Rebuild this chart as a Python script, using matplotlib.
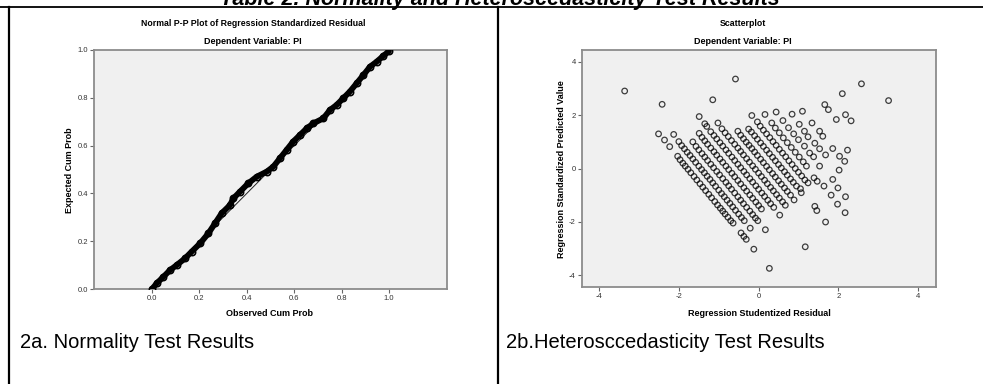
import matplotlib
matplotlib.use("Agg")
import matplotlib.pyplot as plt
from matplotlib.lines import Line2D

# --- data ----------------------------------------------------------------

# Normal P-P plot: observed vs expected cumulative probability
pp_observed = [0.00, 0.02, 0.048, 0.076, 0.104, 0.139, 0.167, 0.203, 0.238, 0.266,
               0.294, 0.329, 0.343, 0.371, 0.406, 0.442, 0.484, 0.512, 0.540, 0.568,
               0.596, 0.624, 0.653, 0.681, 0.723, 0.751, 0.779, 0.807, 0.835, 0.864,
               0.892, 0.920, 0.948, 0.976, 1.00]
pp_expected = [0.00, 0.024, 0.051, 0.079, 0.100, 0.128, 0.156, 0.191, 0.233, 0.275,
               0.317, 0.351, 0.379, 0.407, 0.442, 0.470, 0.491, 0.512, 0.547, 0.582,
               0.617, 0.644, 0.672, 0.693, 0.714, 0.749, 0.770, 0.798, 0.826, 0.861,
               0.895, 0.930, 0.951, 0.975, 0.995]
diag_x = [0.0, 1.0]
diag_y = [0.0, 1.0]
pp_ticks = [0.0, 0.2, 0.4, 0.6, 0.8, 1.0]

# Scatterplot: studentized residual (x) vs standardized predicted value (y)
band0 = [(-3.36, 2.91), (-2.51, 1.30), (-2.36, 1.07), (-2.23, 0.82), (-2.03, 0.46),
         (-1.97, 0.33), (-1.90, 0.20), (-1.84, 0.09), (-1.77, -0.03), (-1.70, -0.16),
         (-1.62, -0.30), (-1.55, -0.43), (-1.47, -0.57), (-1.40, -0.70), (-1.33, -0.83),
         (-1.25, -0.97), (-1.18, -1.10), (-1.10, -1.24), (-1.03, -1.37), (-0.96, -1.49),
         (-0.90, -1.60), (-0.84, -1.71), (-0.77, -1.83), (-0.70, -1.96), (-0.64, -2.05),
         (-0.44, -2.42), (-0.37, -2.55), (-0.31, -2.66), (-0.12, -3.03), (0.27, -3.75)]
band1 = [(-2.13, 1.28), (-2.00, 1.01), (-1.93, 0.86), (-1.86, 0.74), (-1.79, 0.61),
         (-1.72, 0.49), (-1.65, 0.36), (-1.58, 0.23), (-1.50, 0.09), (-1.43, -0.04),
         (-1.36, -0.16), (-1.29, -0.29), (-1.22, -0.41), (-1.15, -0.54), (-1.08, -0.67),
         (-1.00, -0.81), (-0.93, -0.94), (-0.86, -1.06), (-0.79, -1.19), (-0.72, -1.31),
         (-0.65, -1.44), (-0.58, -1.57), (-0.50, -1.71), (-0.43, -1.84), (-0.36, -1.96),
         (-0.21, -2.24)]
band2 = [(-2.42, 2.41), (-1.65, 1.00), (-1.57, 0.83), (-1.50, 0.70), (-1.42, 0.56),
         (-1.35, 0.43), (-1.28, 0.30), (-1.20, 0.16), (-1.13, 0.03), (-1.05, -0.11),
         (-0.98, -0.24), (-0.90, -0.38), (-0.82, -0.52), (-0.75, -0.65), (-0.68, -0.78),
         (-0.60, -0.92), (-0.52, -1.06), (-0.45, -1.19), (-0.38, -1.32), (-0.30, -1.46),
         (-0.22, -1.60), (-0.15, -1.73), (-0.08, -1.86), (-0.02, -1.96), (0.17, -2.30)]
band3 = [(-1.49, 1.32), (-1.42, 1.17), (-1.35, 1.04), (-1.28, 0.91), (-1.20, 0.77),
         (-1.12, 0.63), (-1.05, 0.50), (-0.97, 0.36), (-0.90, 0.23), (-0.82, 0.09),
         (-0.75, -0.04), (-0.67, -0.18), (-0.60, -0.31), (-0.52, -0.45), (-0.45, -0.58),
         (-0.37, -0.72), (-0.30, -0.85), (-0.22, -0.99), (-0.15, -1.12), (-0.07, -1.26),
         (0.00, -1.39), (0.07, -1.52)]
band4 = [(-1.49, 1.95), (-1.35, 1.68), (-1.30, 1.58), (-1.20, 1.38), (-1.12, 1.24),
         (-1.05, 1.11), (-0.97, 0.97), (-0.90, 0.84), (-0.82, 0.70), (-0.75, 0.57),
         (-0.67, 0.43), (-0.60, 0.30), (-0.52, 0.16), (-0.45, 0.03), (-0.37, -0.11),
         (-0.30, -0.24), (-0.22, -0.38), (-0.15, -0.51), (-0.07, -0.65), (0.00, -0.78),
         (0.08, -0.92), (0.15, -1.05), (0.23, -1.19), (0.30, -1.32), (0.38, -1.46),
         (0.53, -1.75)]
band5 = [(-1.02, 1.71), (-0.92, 1.49), (-0.84, 1.34), (-0.76, 1.20), (-0.68, 1.05),
         (-0.60, 0.91), (-0.52, 0.77), (-0.45, 0.64), (-0.38, 0.51), (-0.30, 0.37),
         (-0.23, 0.24), (-0.15, 0.10), (-0.08, -0.03), (0.00, -0.17), (0.07, -0.30),
         (0.15, -0.44), (0.22, -0.57), (0.30, -0.71), (0.37, -0.84), (0.45, -0.98),
         (0.52, -1.11), (0.60, -1.25), (0.67, -1.38)]
band6 = [(-1.15, 2.58), (-0.52, 1.40), (-0.45, 1.25), (-0.38, 1.12), (-0.31, 0.99),
         (-0.24, 0.87), (-0.17, 0.75), (-0.10, 0.62), (-0.03, 0.49), (0.05, 0.35),
         (0.12, 0.22), (0.20, 0.08), (0.27, -0.05), (0.35, -0.19), (0.42, -0.32),
         (0.50, -0.46), (0.57, -0.59), (0.65, -0.73), (0.72, -0.86), (0.80, -1.00),
         (0.89, -1.18)]
band7 = [(-0.25, 1.48), (-0.18, 1.37), (-0.10, 1.23), (-0.03, 1.10), (0.05, 0.96),
         (0.12, 0.83), (0.20, 0.69), (0.27, 0.56), (0.35, 0.42), (0.42, 0.29),
         (0.50, 0.15), (0.57, 0.02), (0.65, -0.12), (0.72, -0.25), (0.80, -0.39),
         (0.87, -0.52), (0.95, -0.66), (1.05, -0.76), (1.07, -0.91), (1.41, -1.42),
         (1.46, -1.58), (1.68, -2.01)]
band8 = [(-0.17, 1.99), (-0.03, 1.75), (0.04, 1.59), (0.12, 1.44), (0.20, 1.30),
         (0.28, 1.16), (0.36, 1.01), (0.44, 0.87), (0.52, 0.72), (0.60, 0.58),
         (0.68, 0.44), (0.76, 0.29), (0.84, 0.15), (0.92, 0.00), (1.00, -0.14),
         (1.08, -0.28), (1.16, -0.43), (1.24, -0.54)]
band9 = [(-0.58, 3.36), (0.16, 2.03), (0.33, 1.71), (0.42, 1.52), (0.52, 1.34),
         (0.62, 1.15), (0.72, 0.97), (0.82, 0.79), (0.92, 0.61), (1.02, 0.43),
         (1.12, 0.25), (1.20, 0.09), (1.39, -0.35), (1.47, -0.48), (1.64, -0.66),
         (1.82, -1.00), (1.98, -1.34), (2.17, -1.66)]
band10 = [(0.44, 2.12), (0.61, 1.80), (0.75, 1.53), (0.88, 1.30), (1.00, 1.08),
          (1.15, 0.84), (1.28, 0.58), (1.38, 0.44), (1.53, 0.09), (1.86, -0.41),
          (1.99, -0.73), (2.18, -1.06)]
band11 = [(0.84, 2.04), (1.02, 1.66), (1.15, 1.40), (1.24, 1.19), (1.41, 0.95),
          (1.53, 0.74), (1.68, 0.51), (2.02, -0.06)]
band12 = [(1.10, 2.15), (1.34, 1.71), (1.53, 1.40), (1.61, 1.21), (1.86, 0.75),
          (2.03, 0.46), (2.16, 0.27)]
upper_right = [(1.66, 2.40), (1.75, 2.21), (1.95, 1.84), (2.18, 2.02), (2.32, 1.79),
               (2.23, 0.69), (2.10, 2.81), (2.58, 3.18), (3.26, 2.55), (1.17, -2.94)]
sc_ticks = [-4, -2, 0, 2, 4]

scatter_pts = (band0 + band1 + band2 + band3 + band4 + band5 + band6 + band7
               + band8 + band9 + band10 + band11 + band12 + upper_right)
resid_x = [p[0] for p in scatter_pts]
pred_y = [p[1] for p in scatter_pts]

# --- figure ---------------------------------------------------------------

W, H = 983, 384
fig = plt.figure(figsize=(W / 100, H / 100), dpi=100)
fig.patch.set_facecolor("white")

SANS = ["Liberation Sans", "DejaVu Sans"]
NARROW = ["Liberation Sans Narrow", "Liberation Sans", "DejaVu Sans"]


def fx(x):
    return x / W


def fy(y):
    return 1 - y / H


def box(x0, y0, x1, y1):
    return [fx(x0), fy(y1), fx(x1) - fx(x0), fy(y0) - fy(y1)]


# table frame
fig.add_artist(Line2D([0, 1], [fy(7), fy(7)], color="black", lw=1.3))
fig.add_artist(Line2D([fx(9), fx(9)], [fy(7), 0], color="black", lw=1.6))
fig.add_artist(Line2D([fx(498), fx(498)], [fy(7), 0], color="black", lw=1.6))

# table caption, its upper half lies above the picture as in the scan
fig.text(fx(500), fy(5.5), "Table 2. Normality and Heteroscedasticity Test Results",
         ha="center", va="baseline", fontsize=15.5, fontweight="bold",
         style="italic", family=SANS)


def spss_axes(rect):
    ax = fig.add_axes(rect)
    ax.set_facecolor("#f0f0f0")
    for s in ax.spines.values():
        s.set_color("#8c8c8c")
        s.set_linewidth(1.3)
    ax.tick_params(direction="out", length=3, width=0.8, color="#666666",
                   labelsize=5.5, labelcolor="#333333", pad=1.5)
    return ax


# ---- left: Normal P-P plot
ax1 = spss_axes(box(94, 50, 447, 289))
ax1.plot(diag_x, diag_y, color="#222222", lw=0.7, zorder=2)
ax1.plot(pp_observed, pp_expected, color="black", lw=4.2, solid_capstyle="round",
         marker="o", ms=4.5, mfc="none", mec="black", mew=1.2, zorder=3)
ax1.set_xlim(-0.245, 1.245)
ax1.set_ylim(0, 1)
ax1.set_xticks(pp_ticks)
ax1.set_yticks(pp_ticks)
ax1.set_xticklabels([f"{t:.1f}" for t in pp_ticks], family=NARROW)
ax1.set_yticklabels([f"{t:.1f}" for t in pp_ticks], family=NARROW)

fig.text(fx(253), fy(23), "Normal P-P Plot of Regression Standardized Residual",
         ha="center", va="center", fontsize=6.3, fontweight="bold", family=NARROW)
fig.text(fx(253), fy(42), "Dependent Variable: PI", ha="center", va="center",
         fontsize=6.5, fontweight="bold", family=NARROW)
fig.text(fx(70), fy(170), "Expected Cum Prob", ha="center", va="center",
         rotation=90, fontsize=6.5, fontweight="bold", family=NARROW)
fig.text(fx(270), fy(313), "Observed Cum Prob", ha="center", va="center",
         fontsize=6.5, fontweight="bold", family=NARROW)

# ---- right: scatterplot
ax2 = spss_axes(box(582, 50, 936, 287))
ax2.scatter(resid_x, pred_y, s=16, facecolors="none", edgecolors="black",
            alpha=0.75, linewidths=0.9, zorder=3)
ax2.set_xlim(-4.43, 4.45)
ax2.set_ylim(-4.45, 4.45)
ax2.set_xticks(sc_ticks)
ax2.set_yticks(sc_ticks)
ax2.set_xticklabels([str(t) for t in sc_ticks], family=NARROW)
ax2.set_yticklabels([str(t) for t in sc_ticks], family=NARROW)

fig.text(fx(743), fy(23), "Scatterplot", ha="center", va="center",
         fontsize=6.3, fontweight="bold", family=NARROW)
fig.text(fx(743), fy(42), "Dependent Variable: PI", ha="center", va="center",
         fontsize=6.5, fontweight="bold", family=NARROW)
fig.text(fx(561), fy(169), "Regression Standardized Predicted Value", ha="center",
         va="center", rotation=90, fontsize=6.5, fontweight="bold", family=NARROW)
fig.text(fx(759), fy(313), "Regression Studentized Residual", ha="center",
         va="center", fontsize=6.5, fontweight="bold", family=NARROW)

# ---- captions
fig.text(fx(20), fy(343), "2a. Normality Test Results", ha="left", va="center",
         fontsize=14.5, family=NARROW)
fig.text(fx(506), fy(343), "2b.Heterosccedasticity Test Results", ha="left",
         va="center", fontsize=14.5, family=NARROW)

fig.savefig("out.png", dpi=100, facecolor="white")
